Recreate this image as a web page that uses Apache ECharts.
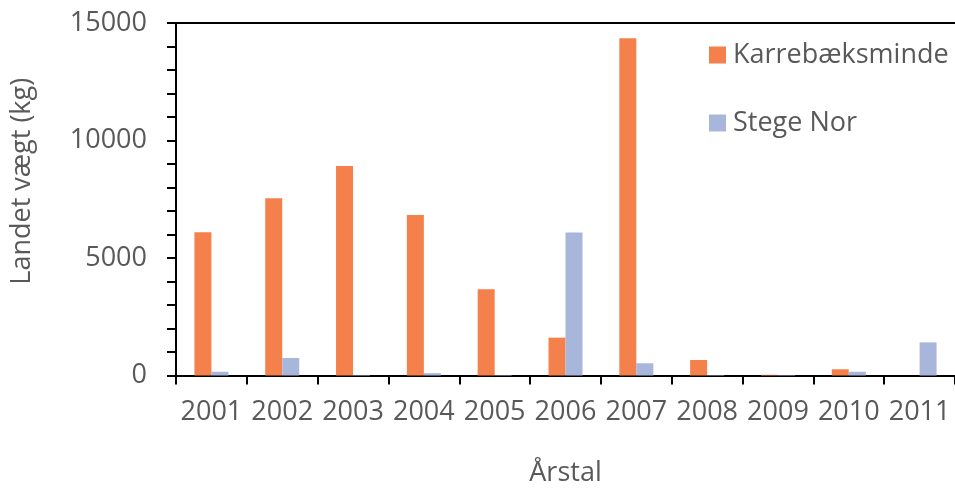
<!DOCTYPE html>
<html>
<head>
<meta charset="utf-8">
<script src="https://cdn.jsdelivr.net/npm/echarts@6/dist/echarts.min.js"></script>
<style>
  html, body { margin: 0; padding: 0; background: #fff; }
  #chart { width: 955px; height: 488px; }
</style>
</head>
<body>
<div id="chart"></div>
<script>
// Landings per year (kg) for two fishing grounds
const years = ['2001', '2002', '2003', '2004', '2005', '2006', '2007', '2008', '2009', '2010', '2011'];
const karrebaeksminde = [6100, 7540, 8910, 6830, 3670, 1610, 14350, 660, 30, 265, 0];
const stegeNor = [160, 745, 25, 100, 20, 6090, 520, 20, 20, 160, 1410];
const seriesNames = ['Karrebæksminde', 'Stege Nor'];
const yTicks = { min: 0, max: 15000, minorStep: 1000, labelStep: 5000 };

const FONT = 'Open Sans';
const TEXT = '#595959';
const SIZE = 27;

const chart = echarts.init(document.getElementById('chart'), null, { renderer: 'canvas' });

chart.setOption({
  animation: false,
  backgroundColor: '#ffffff',
  textStyle: { fontFamily: FONT },
  grid: {
    left: 176, right: 0, top: 23, bottom: 112.5,
    containLabel: false,
    outerBoundsMode: 'none'
  },
  legend: {
    orient: 'vertical',
    left: 704,
    top: 35,
    itemWidth: 17,
    itemHeight: 17,
    itemGap: 38,
    icon: 'rect',
    textStyle: { fontFamily: FONT, fontSize: SIZE, color: TEXT, padding: [0, 0, 0, 2], lineHeight: 30 },
    data: seriesNames
  },
  xAxis: [{
    type: 'category',
    data: years,
    boundaryGap: true,
    name: 'Årstal',
    nameLocation: 'middle',
    nameGap: 84,
    nameTextStyle: { fontFamily: FONT, fontSize: SIZE, color: TEXT },
    axisLine: { show: true, lineStyle: { color: '#000', width: 2 } },
    axisTick: { show: true, length: 9, interval: 0, lineStyle: { color: '#000', width: 2 } },
    axisLabel: { fontFamily: FONT, fontSize: SIZE, color: TEXT, margin: 23, interval: 0 },
    splitLine: { show: false }
  }, {
    // top frame line of the plot area
    type: 'category',
    data: years,
    position: 'top',
    axisLine: { show: true, lineStyle: { color: '#000', width: 2 } },
    axisTick: { show: false },
    axisLabel: { show: false },
    splitLine: { show: false }
  }],
  yAxis: {
    type: 'value',
    min: yTicks.min,
    max: yTicks.max,
    interval: yTicks.minorStep,
    name: 'Landet vægt (kg)',
    nameLocation: 'middle',
    nameGap: 140,
    nameTextStyle: { fontFamily: FONT, fontSize: SIZE, color: TEXT, padding: [0, 0, 0, 36] },
    axisLine: { show: true, lineStyle: { color: '#000', width: 2 } },
    axisTick: { show: true, length: 9, lineStyle: { color: '#000', width: 2 } },
    axisLabel: {
      fontFamily: FONT, fontSize: SIZE, color: TEXT, margin: 29,
      formatter: v => (v % yTicks.labelStep === 0 ? String(v) : '')
    },
    splitLine: { show: false }
  },
  series: [{
    name: seriesNames[0],
    type: 'bar',
    data: karrebaeksminde,
    barWidth: 17,
    barGap: '0%',
    itemStyle: { color: '#F4804B' }
  }, {
    name: seriesNames[1],
    type: 'bar',
    data: stegeNor,
    barWidth: 17,
    barGap: '0%',
    itemStyle: { color: '#A8B6DC' }
  }]
});
</script>
</body>
</html>
